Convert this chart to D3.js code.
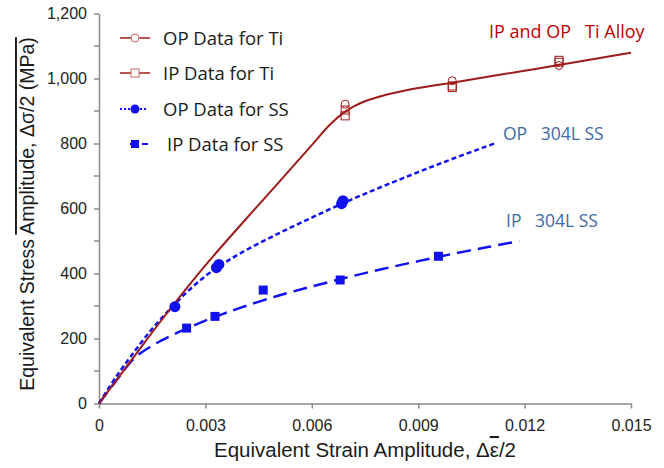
<!DOCTYPE html>
<html>
<head>
<meta charset="utf-8">
<script src="https://cdn.jsdelivr.net/npm/d3@7"></script>
<style>
  body { margin: 0; background: #fff; }
  text { font-family: "Liberation Sans", Arial, sans-serif; }
  .lab { font-family: "Open Sans", "Noto Sans", sans-serif; }
</style>
</head>
<body>
<div id="chart"></div>
<script>
// fitted curves
const tiCurve = [[0,0],[0.001,146],[0.002,290],[0.003,425],[0.004,550],[0.005,672],[0.006,795],[0.0065,857],
  [0.0069,895],[0.0072,915],[0.0075,930],[0.008,947],[0.0085,960],[0.009,971],[0.010,988],[0.011,1006],
  [0.012,1024],[0.013,1042],[0.014,1061],[0.015,1079]];
const opSSCurve = [[0,0],[0.0005,85],[0.001,160],[0.0015,230],[0.002,290],[0.0025,345],[0.003,392],[0.0035,430],
  [0.004,463],[0.005,520],[0.006,572],[0.007,622],[0.008,668],[0.009,712],[0.010,754],[0.0112,802]];
const ipSSCurve = [[0,0],[0.0005,72],[0.001,140],[0.0015,178],[0.002,207],[0.0025,232],[0.003,255],[0.0035,276],
  [0.004,295],[0.005,330],[0.006,360],[0.007,388],[0.008,414],[0.009,438],[0.010,461],[0.011,482],[0.01185,500]];

// measured points
const tiOP = [[0.00694,921],[0.00996,993],[0.01297,1040]];
const tiIP = [[0.00694,903],[0.00694,885],[0.00996,977],[0.00996,972],[0.01297,1050],[0.01297,1056]];
const ssOP = [[0.00214,298],[0.00331,418],[0.00338,428],[0.00684,615],[0.00688,624]];
const ssIP = [[0.00247,232],[0.00327,268],[0.00463,349],[0.0068,380],[0.00957,453]];

const xTicks = [0, 0.003, 0.006, 0.009, 0.012, 0.015];
const xTickLabels = ["0", "0.003", "0.006", "0.009", "0.012", "0.015"];
const yTicks = [0, 200, 400, 600, 800, 1000, 1200];
const yMinor = [100, 300, 500, 700, 900, 1100];

const W = 664, H = 468;
const margin = { left: 99, right: 33, top: 13.5, bottom: 64.5 };
const red = "#9e1b1b", blue = "#1010f0", axisCol = "#8a8a8a";

const svg = d3.select("#chart").append("svg").attr("width", W).attr("height", H);

const x = d3.scaleLinear().domain([0, 0.015]).range([margin.left, W - margin.right]);
const y = d3.scaleLinear().domain([0, 1200]).range([H - margin.bottom, margin.top]);

// axes
const xAxis = svg.append("g").attr("transform", `translate(0,${y(0)})`)
  .call(d3.axisBottom(x).tickValues(xTicks).tickFormat((d, i) => xTickLabels[i]).tickSize(5).tickSizeOuter(0));
const yAxis = svg.append("g").attr("transform", `translate(${x(0)},0)`)
  .call(d3.axisLeft(y).tickValues(yTicks).tickFormat(d3.format(",")).tickSize(5).tickSizeOuter(0));
svg.append("g").selectAll("line").data(yMinor).enter().append("line")
  .attr("x1", x(0) - 5).attr("x2", x(0)).attr("y1", d => y(d)).attr("y2", d => y(d))
  .attr("stroke", axisCol).attr("stroke-width", 1.5);
[xAxis, yAxis].forEach(a => {
  a.select(".domain").attr("stroke", axisCol).attr("stroke-width", 1.5);
  a.selectAll(".tick line").attr("stroke", axisCol).attr("stroke-width", 1.5);
  a.selectAll("text").attr("font-size", 16).attr("fill", "#222");
});
xAxis.selectAll("text").attr("dy", "1.22em");
yAxis.selectAll("text").attr("x", -12);

// curves
const line = d3.line().x(d => x(d[0])).y(d => y(d[1])).curve(d3.curveCatmullRom.alpha(0.5));
svg.append("path").datum(ipSSCurve).attr("d", line).attr("fill", "none")
  .attr("stroke", blue).attr("stroke-width", 2.5).attr("stroke-dasharray", "14,7");
svg.append("path").datum(opSSCurve).attr("d", line).attr("fill", "none")
  .attr("stroke", blue).attr("stroke-width", 2.5).attr("stroke-dasharray", "5,3");
svg.append("path").datum(tiCurve).attr("d", line).attr("fill", "none")
  .attr("stroke", red).attr("stroke-width", 2);

// markers
svg.append("g").selectAll("circle").data(ssOP).enter().append("circle")
  .attr("cx", d => x(d[0])).attr("cy", d => y(d[1])).attr("r", 5.5).attr("fill", blue);
svg.append("g").selectAll("rect").data(ssIP).enter().append("rect")
  .attr("x", d => x(d[0]) - 4.5).attr("y", d => y(d[1]) - 4.5).attr("width", 9).attr("height", 9).attr("fill", blue);
svg.append("g").selectAll("rect").data(tiIP).enter().append("rect")
  .attr("x", d => x(d[0]) - 4).attr("y", d => y(d[1]) - 4).attr("width", 8).attr("height", 8)
  .attr("fill", "none").attr("stroke", red).attr("stroke-width", 1);
svg.append("g").selectAll("circle").data(tiOP).enter().append("circle")
  .attr("cx", d => x(d[0])).attr("cy", d => y(d[1])).attr("r", 4)
  .attr("fill", "none").attr("stroke", red).attr("stroke-width", 1);

// legend
const legend = [
  { label: "OP Data for Ti", color: red, dash: null, w: 1.5, mark: "oc", x1: 120, x2: 150, tx: 163 },
  { label: "IP Data for Ti", color: red, dash: null, w: 1.5, mark: "os", x1: 120, x2: 150, tx: 163 },
  { label: "OP Data for SS", color: blue, dash: "2,2", w: 2, mark: "fc", x1: 120, x2: 148, tx: 163 },
  { label: "IP Data for SS", color: blue, dash: "7,5", w: 2, mark: "fs", x1: 130, x2: 148, tx: 167 }
];
const ly = [38, 73, 109, 144];
legend.forEach((d, i) => {
  const g = svg.append("g");
  g.append("line").attr("x1", d.x1).attr("x2", d.x2).attr("y1", ly[i]).attr("y2", ly[i])
    .attr("stroke", d.color).attr("stroke-width", d.w).attr("stroke-dasharray", d.dash);
  const cx = 135;
  if (d.mark === "oc") g.append("circle").attr("cx", cx).attr("cy", ly[i]).attr("r", 4).attr("fill", "#fff").attr("stroke", "#c86464");
  if (d.mark === "os") g.append("rect").attr("x", cx - 4).attr("y", ly[i] - 4).attr("width", 8).attr("height", 8).attr("fill", "#fff").attr("stroke", "#c86464");
  if (d.mark === "fc") g.append("circle").attr("cx", cx).attr("cy", ly[i]).attr("r", 4.5).attr("fill", d.color);
  if (d.mark === "fs") g.append("rect").attr("x", cx - 4).attr("y", ly[i] - 4).attr("width", 8).attr("height", 8).attr("fill", d.color);
  g.append("text").attr("class", "lab").attr("x", d.tx).attr("y", ly[i] + 6.5).attr("font-size", 18.5)
    .attr("fill", "#1a1a1a").text(d.label);
});

// annotations
svg.append("text").attr("class", "lab").attr("x", 489).attr("y", 38).attr("font-size", 18)
  .attr("fill", "#c00000").attr("xml:space", "preserve").text("IP and OP   Ti Alloy");
svg.append("text").attr("class", "lab").attr("x", 503).attr("y", 140).attr("font-size", 17.5)
  .attr("fill", "#3e6aa6").attr("xml:space", "preserve").text("OP   304L SS");
svg.append("text").attr("class", "lab").attr("x", 506).attr("y", 227).attr("font-size", 17.5)
  .attr("fill", "#3e6aa6").attr("xml:space", "preserve").text("IP   304L SS");

// axis titles
const xt = svg.append("text").attr("x", 365).attr("y", 457).attr("text-anchor", "middle")
  .attr("font-size", 20.5).attr("fill", "#1a1a1a");
xt.append("tspan").text("Equivalent Strain Amplitude, \u0394");
xt.append("tspan").attr("text-decoration", "overline").text("\u03b5");
xt.append("tspan").text("/2");

const yt = svg.append("text").attr("transform", "translate(34,214) rotate(-90)").attr("text-anchor", "middle")
  .attr("font-size", 19.5).attr("fill", "#1a1a1a");
yt.append("tspan").text("Equivalent Stress ");
yt.append("tspan").attr("text-decoration", "overline").text("Amplitude, \u0394\u03c3/2 (MPa)");
</script>
</body>
</html>
